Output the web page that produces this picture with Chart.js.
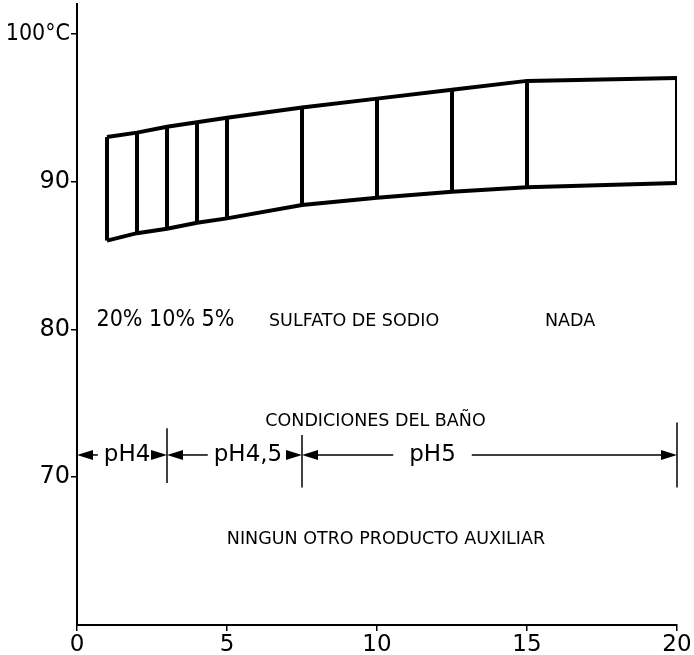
<!DOCTYPE html>
<html>
<head>
<meta charset="utf-8">
<script src="https://cdn.jsdelivr.net/npm/chart.js@4"></script>
<style>
  html,body{margin:0;padding:0;background:#fff;}
  #wrap{width:694px;height:655px;}
</style>
</head>
<body>
<div id="wrap"><canvas id="grafica" width="694" height="655"></canvas></div>
<script>
// datos
const tiempos = [1, 2, 3, 4, 5, 7.5, 10, 12.5, 15, 20];
const tempMax = [93.0, 93.3, 93.7, 94.0, 94.3, 95.0, 95.6, 96.2, 96.8, 97.0];
const tempMin = [86.0, 86.5, 86.8, 87.2, 87.5, 88.4, 88.9, 89.3, 89.6, 89.9];
const ticksX = [0, 5, 10, 15, 20];
const ticksY = [70, 80, 90, 100];
const limitesPH = [0, 3, 7.5, 20];
const etiquetasPH = ['pH4', 'pH4,5', 'pH5'];

const FUENTE = '"DejaVu Sans", sans-serif';
const FUENTE_C = '"DejaVu Sans Condensed", "DejaVu Sans", sans-serif';

// =========================
// datasets
// =========================
const curva = (vals) => tiempos.map((t, i) => ({x: t, y: vals[i]}));
const lineaBase = {borderColor:'#000', borderWidth:4, pointRadius:0, showLine:true, fill:false, tension:0};

const datasets = [
  {...lineaBase, label:'max', data:curva(tempMax)},
  {...lineaBase, label:'min', data:curva(tempMin)}
];
tiempos.forEach((t, i) => {
  datasets.push({...lineaBase, label:'v'+t, data:[{x:t, y:tempMin[i]}, {x:t, y:tempMax[i]}]});
});

// =========================
// textos y flechas
// =========================
function flecha(ctx, x, y, dir){
  ctx.beginPath();
  ctx.moveTo(x, y);
  ctx.lineTo(x - dir*16, y - 5);
  ctx.lineTo(x - dir*16, y + 5);
  ctx.closePath();
  ctx.fill();
}

const anotaciones = {
  id:'anotaciones',
  afterDatasetsDraw(chart){
    const ctx = chart.ctx, sx = chart.scales.x, sy = chart.scales.y;
    const px = v => sx.getPixelForValue(v), py = v => sy.getPixelForValue(v);
    ctx.save();
    ctx.fillStyle = '#000';
    ctx.strokeStyle = '#000';
    ctx.textBaseline = 'middle';

    ctx.font = '23px ' + FUENTE_C;
    ctx.textAlign = 'left';
    ctx.fillText('20% 10% 5%', px(0.65), py(80.65));
    ctx.font = '17.5px ' + FUENTE;
    ctx.fillText('SULFATO DE SODIO', px(6.4), py(80.55));
    ctx.fillText('NADA', px(15.6), py(80.55));
    ctx.textAlign = 'center';
    ctx.fillText('CONDICIONES DEL BAÑO', px(9.95), py(73.75));
    ctx.fillText('NINGUN OTRO PRODUCTO AUXILIAR', px(10.3), py(65.8));

    // fila de pH
    const yPH = py(71.5);
    ctx.lineWidth = 1.5;
    [[3, 73.3, 69.6], [7.5, 72.85, 69.3], [20, 73.7, 69.3]].forEach(([x, a, b]) => {
      ctx.beginPath();
      ctx.moveTo(px(x), py(a));
      ctx.lineTo(px(x), py(b));
      ctx.stroke();
    });
    ctx.font = '23px ' + FUENTE;
    const centros = [1.67, 5.7, 11.85];
    const huecos = [6, 6, 16];
    for (let i = 0; i < etiquetasPH.length; i++){
      const a = px(limitesPH[i]);
      const b = px(limitesPH[i+1]);
      const w = ctx.measureText(etiquetasPH[i]).width;
      const cx = px(centros[i]);
      ctx.fillText(etiquetasPH[i], cx, yPH);
      flecha(ctx, a, yPH, -1);
      flecha(ctx, b, yPH, 1);
      const g = huecos[i];
      ctx.beginPath();
      if (cx - w/2 - g > a + 15){ ctx.moveTo(a + 15, yPH); ctx.lineTo(cx - w/2 - g, yPH); }
      if (cx + w/2 + g < b - 15){ ctx.moveTo(cx + w/2 + g, yPH); ctx.lineTo(b - 15, yPH); }
      ctx.stroke();
    }
    ctx.restore();
  }
};

// =========================
// gráfica
// =========================
new Chart(document.getElementById('grafica'), {
  type:'scatter',
  data:{datasets},
  options:{
    responsive:false,
    animation:false,
    events:[],
    layout:{padding:{top:4, right:17, left:0, bottom:0}},
    plugins:{legend:{display:false}, tooltip:{enabled:false}},
    scales:{
      x:{
        type:'linear', min:0, max:20,
        afterBuildTicks:(s) => { s.ticks = ticksX.map(v => ({value:v})); },
        afterFit:(s) => { s.height = 30; s.paddingLeft = 0; s.paddingRight = 0; },
        grid:{display:true, drawOnChartArea:false, drawTicks:true, tickLength:6, color:'#000', lineWidth:1.5},
        border:{display:true, color:'#000', width:2},
        ticks:{color:'#000', font:{family:FUENTE, size:23}, padding:0, maxRotation:0}
      },
      y:{
        type:'linear', min:60, max:102,
        afterBuildTicks:(s) => { s.ticks = ticksY.map(v => ({value:v})); },
        afterFit:(s) => { s.width = 77; s.paddingTop = 0; s.paddingBottom = 0; },
        grid:{display:true, drawOnChartArea:false, drawTicks:true, tickLength:6, color:'#000', lineWidth:1.5},
        border:{display:true, color:'#000', width:2},
        ticks:{color:'#000', padding:1,
          font:(c) => (c.tick && c.tick.value === 100) ? {family:FUENTE_C, size:23} : {family:FUENTE, size:24},
          callback:(v) => v === 100 ? '100°C' : String(v)}
      }
    }
  },
  plugins:[anotaciones]
});
</script>
</body>
</html>
